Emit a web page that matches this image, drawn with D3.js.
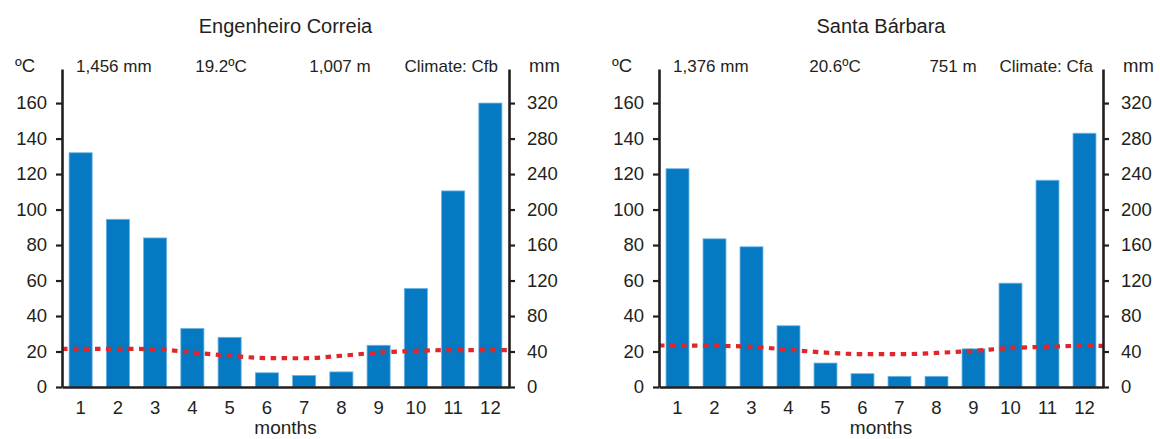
<!DOCTYPE html>
<html>
<head>
<meta charset="utf-8">
<script src="https://cdn.jsdelivr.net/npm/d3@7"></script>
<style>
	body { margin: 0; background: #fff; }
	svg { display: block; font-family: 'Liberation Sans', Arial, sans-serif; }
</style>
</head>
<body>
<div id="chart"></div>
<script>
// climate diagram data
const months = [ 1, 2, 3, 4, 5, 6, 7, 8, 9, 10, 11, 12 ];
const tempTicks = [ 0, 20, 40, 60, 80, 100, 120, 140, 160 ];
const precipTicks = [ 0, 40, 80, 120, 160, 200, 240, 280, 320 ];

// Engenheiro Correia
const ecPrecip = [ 264, 189, 168, 66, 56, 16, 13, 17, 47, 111, 221, 320 ];
const ecTemp = [ 21.5, 21.5, 21.3, 19.4, 17.6, 16.3, 16.2, 17.6, 19.4, 20.4, 20.8, 20.8 ];
const ecInfo = [ '1,456 mm', '19.2ºC', '1,007 m', 'Climate: Cfb' ];

// Santa Bárbara
const sbPrecip = [ 246, 167, 158, 69, 27, 15, 12, 12, 43, 117, 233, 286 ];
const sbTemp = [ 23.4, 23.2, 22.7, 21.0, 19.4, 18.5, 18.5, 19.2, 20.4, 21.9, 22.7, 23.2 ];
const sbInfo = [ '1,376 mm', '20.6ºC', '751 m', 'Climate: Cfa' ];

const width = 1160;
const height = 439;
const ink = '#231f20';
const axisTop = 69;
const base = 387;

const svg = d3.select('#chart').append('svg').attr('width', width).attr('height', height);

function panel(x0, x1, title, info, infoX, precip, temp) {
	const g = svg.append('g');

	const x = d3.scaleBand().domain(months).range([ x0, x1 ]).paddingInner(0.38).paddingOuter(0.19);
	// axis line runs a bit above the last tick
	const yT = d3.scaleLinear().domain([ 0, 179.2 ]).range([ base, axisTop ]);
	const yP = d3.scaleLinear().domain([ 0, 358.4 ]).range([ base, axisTop ]);

	// precipitation bars
	g
		.append('g')
		.selectAll('rect')
		.data(precip)
		.join('rect')
		.attr('x', (d, i) => x(months[i]))
		.attr('y', (d) => yP(d))
		.attr('width', x.bandwidth())
		.attr('height', (d) => base - yP(d))
		.attr('fill', '#0579c1')
		.attr('stroke', '#6cb4e4')
		.attr('stroke-width', 0.8);

	// temperature line, carried out to both axes
	const pts = [ [ x0, temp[0] ] ]
		.concat(months.map((m, i) => [ x(m) + x.bandwidth() / 2, temp[i] ]))
		.concat([ [ x1, temp[temp.length - 1] ] ]);
	const line = d3.line().x((d) => d[0]).y((d) => yT(d[1])).curve(d3.curveMonotoneX);
	g
		.append('path')
		.attr('d', line(pts))
		.attr('fill', 'none')
		.attr('stroke', '#e1262b')
		.attr('stroke-width', 4.2)
		.attr('stroke-dasharray', '5.5,5.5');

	const styleAxis = (a, size) => {
		a.select('.domain').attr('stroke', ink).attr('stroke-width', 2.6);
		a.selectAll('.tick line').attr('stroke', ink).attr('stroke-width', 2.2);
		a.selectAll('text').attr('fill', ink).attr('font-size', size).attr('font-family', null);
	};

	const xAxis = g
		.append('g')
		.attr('transform', `translate(0,${base})`)
		.call(d3.axisBottom(x).tickSize(0).tickSizeOuter(0).tickPadding(14));
	styleAxis(xAxis, 18.5);

	const leftAxis = g
		.append('g')
		.attr('transform', `translate(${x0},0)`)
		.call(d3.axisLeft(yT).tickValues(tempTicks).tickSize(6).tickSizeOuter(0).tickPadding(9));
	styleAxis(leftAxis, 18.5);

	const rightAxis = g
		.append('g')
		.attr('transform', `translate(${x1},0)`)
		.call(d3.axisRight(yP).tickValues(precipTicks).tickSize(6).tickSizeOuter(0).tickPadding(12));
	styleAxis(rightAxis, 18.5);

	// header line
	const hdr = g.append('g').attr('fill', ink).attr('font-size', 17);
	hdr.append('text').attr('x', x0 - 47).attr('y', 72).attr('font-size', 18.5).text('ºC');
	hdr.append('text').attr('x', x1 + 20).attr('y', 72).attr('font-size', 18.5).text('mm');
	hdr.append('text').attr('x', x0 + 14).attr('y', 72).text(info[0]);
	hdr.append('text').attr('x', infoX[0]).attr('y', 72).attr('text-anchor', 'middle').text(info[1]);
	hdr.append('text').attr('x', infoX[1]).attr('y', 72).attr('text-anchor', 'middle').text(info[2]);
	hdr.append('text').attr('x', infoX[2]).attr('y', 72).attr('text-anchor', 'end').text(info[3]);

	g
		.append('text')
		.attr('x', (x0 + x1) / 2)
		.attr('y', 33)
		.attr('text-anchor', 'middle')
		.attr('font-size', 20)
		.attr('fill', ink)
		.text(title);

	g
		.append('text')
		.attr('x', (x0 + x1) / 2)
		.attr('y', 434)
		.attr('text-anchor', 'middle')
		.attr('font-size', 19)
		.attr('fill', ink)
		.text('months');
}

panel(62, 509, 'Engenheiro Correia', ecInfo, [ 221, 340, 498 ], ecPrecip, ecTemp);
panel(659, 1103, 'Santa Bárbara', sbInfo, [ 835, 953, 1093 ], sbPrecip, sbTemp);
</script>
</body>
</html>
